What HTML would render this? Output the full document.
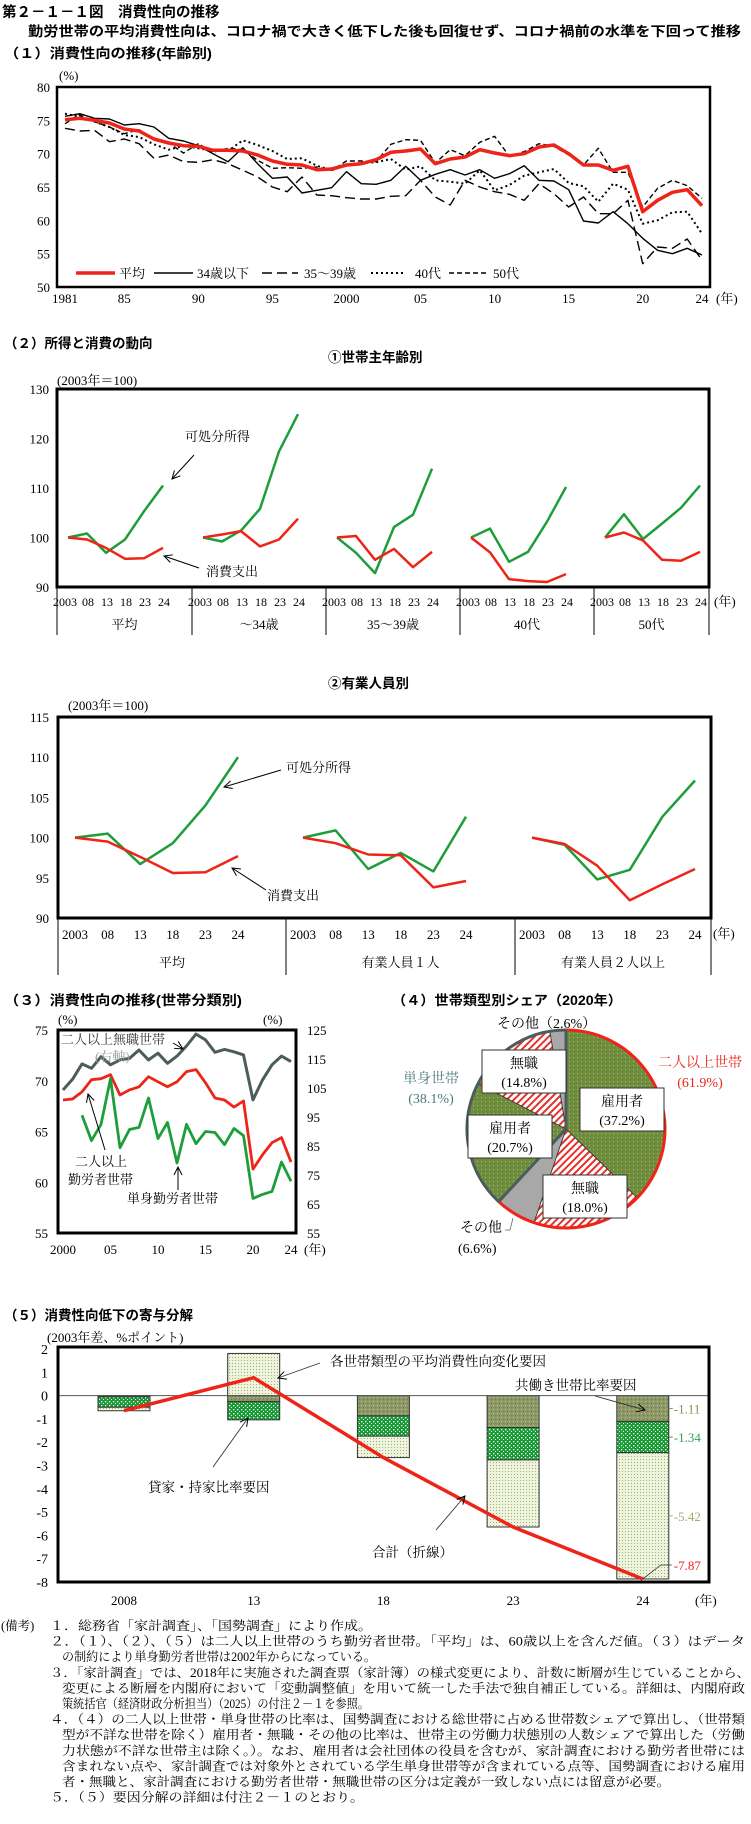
<!DOCTYPE html>
<html><head><meta charset="utf-8"><style>
body{margin:0;background:#fff}
svg{display:block}
.h{font-family:"Liberation Sans","Noto Sans CJK JP",sans-serif;font-weight:bold}
.s{font-family:"Liberation Serif","Noto Serif CJK SC","Noto Sans CJK JP",serif}
</style></head><body>
<svg id="fig" xmlns="http://www.w3.org/2000/svg" width="751" height="1824" viewBox="0 0 751 1824">
<defs>
<pattern id="hatchRed" width="5" height="5" patternUnits="userSpaceOnUse" patternTransform="rotate(45)"><rect width="5" height="5" fill="#fff"/><rect width="2" height="5" fill="#e8302a"/></pattern>
<pattern id="pieGreen" width="4" height="4" patternUnits="userSpaceOnUse"><rect width="4" height="4" fill="#6f8c3c"/><rect x="1" y="1" width="1" height="1" fill="#a8c080"/></pattern>
<pattern id="barOlive" width="4" height="4" patternUnits="userSpaceOnUse"><rect width="4" height="4" fill="#8c9866"/><rect x="1" y="1" width="1" height="1" fill="#b8c498"/><rect x="3" y="3" width="1" height="1" fill="#6c7848"/></pattern>
<pattern id="barGreen" width="4" height="4" patternUnits="userSpaceOnUse"><rect width="4" height="4" fill="#1c9a3a"/><rect x="1" y="1" width="1.3" height="1.3" fill="#e8ffe8"/><rect x="3" y="3" width="1.3" height="1.3" fill="#e8ffe8"/></pattern>
<pattern id="barLight" width="3" height="3" patternUnits="userSpaceOnUse"><rect width="3" height="3" fill="#eef3dc"/><rect x="1" y="1" width="1" height="1" fill="#9cae7c"/></pattern>
<marker id="arr" markerWidth="10" markerHeight="10" refX="9" refY="5" orient="auto" markerUnits="userSpaceOnUse"><path d="M1,1 L9,5 L1,9" fill="none" stroke="#000" stroke-width="1"/></marker>
</defs>
<rect width="751" height="1824" fill="#fff"/>

<!-- Header -->
<text class="h" x="2" y="17" font-size="14.5">第２－１－１図　消費性向の推移</text>
<text class="h" x="28" y="36" font-size="13.5" textLength="713" lengthAdjust="spacingAndGlyphs">勤労世帯の平均消費性向は、コロナ禍で大きく低下した後も回復せず、コロナ禍前の水準を下回って推移</text>
<text class="h" x="4" y="58" font-size="13.5" textLength="208" lengthAdjust="spacingAndGlyphs">（１）消費性向の推移(年齢別)</text>

<!-- Chart 1 static -->
<g id="c1">
<text class="s" x="59" y="80" font-size="13">(%)</text>
<rect x="57" y="87" width="653" height="200" fill="none" stroke="#000" stroke-width="2.5"/>
<text class="s" x="716" y="303" font-size="13">(年)</text>
</g>

<!-- Section 2 -->
<text class="h" x="4" y="348" font-size="13.5">（２）所得と消費の動向</text>
<text class="h" x="328" y="362" font-size="13.5">①世帯主年齢別</text>
<text class="s" x="57" y="385" font-size="13">(2003年＝100)</text>
<g id="c2a">
<rect x="57" y="389" width="652" height="198" fill="none" stroke="#000" stroke-width="3"/>
<text class="s" x="714" y="606" font-size="13">(年)</text>
<text class="s" x="185" y="441" font-size="13">可処分所得</text>
<line x1="194" y1="455" x2="172" y2="479" stroke="#000" stroke-width="1" marker-end="url(#arr)"/>
<text class="s" x="206" y="576" font-size="13">消費支出</text>
<line x1="199" y1="568" x2="164" y2="556" stroke="#000" stroke-width="1" marker-end="url(#arr)"/>
</g>

<text class="h" x="328" y="688" font-size="13.5">②有業人員別</text>
<text class="s" x="68" y="710" font-size="13">(2003年＝100)</text>
<g id="c2b">
<rect x="58" y="717" width="653" height="201" fill="none" stroke="#000" stroke-width="3"/>
<text class="s" x="713" y="938" font-size="13">(年)</text>
<text class="s" x="286" y="772" font-size="13">可処分所得</text>
<line x1="281" y1="770" x2="224" y2="787" stroke="#000" stroke-width="1" marker-end="url(#arr)"/>
<text class="s" x="267" y="900" font-size="13">消費支出</text>
<line x1="266" y1="890" x2="232" y2="868" stroke="#000" stroke-width="1" marker-end="url(#arr)"/>
</g>

<!-- Section 3 -->
<text class="h" x="4" y="1005" font-size="13.5" textLength="238" lengthAdjust="spacingAndGlyphs">（３）消費性向の推移(世帯分類別)</text>
<g id="c3">
<text class="s" x="58" y="1024" font-size="13">(%)</text>
<text class="s" x="263" y="1024" font-size="13">(%)</text>
<rect x="58" y="1030" width="238" height="203" fill="none" stroke="#000" stroke-width="3"/>
<text class="s" x="304" y="1254" font-size="13">(年)</text>
</g>

<!-- Section 4 -->
<text class="h" x="392" y="1005" font-size="13.5" textLength="230" lengthAdjust="spacingAndGlyphs">（４）世帯類型別シェア（2020年）</text>
<g id="c4"></g>

<!-- Section 5 -->
<text class="h" x="4" y="1320" font-size="13.5">（５）消費性向低下の寄与分解</text>
<text class="s" x="47" y="1342" font-size="13">(2003年差、%ポイント)</text>
<g id="c5">
<text class="s" x="695" y="1605" font-size="13">(年)</text>
</g>

<!-- Notes -->
<g class="s" font-size="12.5">
<text x="1" y="1630">(備考)</text>
<text x="50" y="1630" textLength="322" lengthAdjust="spacingAndGlyphs">１．総務省「家計調査」、「国勢調査」により作成。</text>
<text x="50" y="1645.6" textLength="695" lengthAdjust="spacingAndGlyphs">２．（１）、（２）、（５）は二人以上世帯のうち勤労者世帯。「平均」は、60歳以上を含んだ値。（３）はデータ</text>
<text x="62" y="1661.2" textLength="314" lengthAdjust="spacingAndGlyphs">の制約により単身勤労者世帯は2002年からになっている。</text>
<text x="50" y="1676.8" textLength="700" lengthAdjust="spacingAndGlyphs">３．「家計調査」では、2018年に実施された調査票（家計簿）の様式変更により、計数に断層が生じていることから、</text>
<text x="62" y="1692.4" textLength="683" lengthAdjust="spacingAndGlyphs">変更による断層を内閣府において「変動調整値」を用いて統一した手法で独自補正している。詳細は、内閣府政</text>
<text x="62" y="1708" textLength="307" lengthAdjust="spacingAndGlyphs">策統括官（経済財政分析担当）（2025）の付注２－１を参照。</text>
<text x="50" y="1723.6" textLength="695" lengthAdjust="spacingAndGlyphs">４．（４）の二人以上世帯・単身世帯の比率は、国勢調査における総世帯に占める世帯数シェアで算出し、（世帯類</text>
<text x="62" y="1739.2" textLength="683" lengthAdjust="spacingAndGlyphs">型が不詳な世帯を除く）雇用者・無職・その他の比率は、世帯主の労働力状態別の人数シェアで算出した（労働</text>
<text x="62" y="1754.8" textLength="683" lengthAdjust="spacingAndGlyphs">力状態が不詳な世帯主は除く。）。なお、雇用者は会社団体の役員を含むが、家計調査における勤労者世帯には</text>
<text x="62" y="1770.4" textLength="683" lengthAdjust="spacingAndGlyphs">含まれない点や、家計調査では対象外とされている学生単身世帯等が含まれている点等、国勢調査における雇用</text>
<text x="62" y="1786" textLength="608" lengthAdjust="spacingAndGlyphs">者・無職と、家計調査における勤労者世帯・無職世帯の区分は定義が一致しない点には留意が必要。</text>
<text x="50" y="1801.6" textLength="314" lengthAdjust="spacingAndGlyphs">５．（５）要因分解の詳細は付注２－１のとおり。</text>
</g>
</svg>

<script>
// ===== Chart 1 data =====
const years1 = [1981,1982,1983,1984,1985,1986,1987,1988,1989,1990,1991,1992,1993,1994,1995,1996,1997,1998,1999,2000,2001,2002,2003,2004,2005,2006,2007,2008,2009,2010,2011,2012,2013,2014,2015,2016,2017,2018,2019,2020,2021,2022,2023,2024];
const avgAll = [75.1,75.3,75.0,74.6,73.7,73.4,72.2,71.6,71.2,71.1,70.5,70.5,70.4,69.8,68.9,68.4,68.3,67.6,67.7,68.3,68.5,69.1,70.2,70.4,70.7,68.5,69.2,69.5,70.6,70.1,69.7,70.0,71.0,71.3,70.0,68.3,68.3,67.5,68.1,61.3,63.0,64.2,64.6,62.2];
const age34 = [75.6,76.0,75.3,75.2,74.3,74.5,74.0,72.3,71.9,71.2,70.0,68.8,70.9,68.5,66.3,66.5,64.1,64.5,64.9,67.3,65.5,65.4,66.0,68.1,66.0,66.9,67.6,66.8,67.6,66.3,67.0,68.2,66.0,65.9,64.6,59.9,59.6,61.3,59.5,57.3,55.5,55.0,55.8,54.8];
const age3539 = [73.8,73.4,73.5,71.8,72.2,71.5,69.3,69.8,68.8,68.7,69.1,68.5,67.5,66.5,65.0,64.3,66.5,63.8,63.7,63.4,63.2,63.2,63.6,63.7,66.0,63.5,62.3,66.0,65.0,64.3,63.9,63.0,65.5,64.0,62.0,63.5,61.0,61.0,63.0,53.5,56.0,55.8,57.2,54.0];
const age40s = [76.0,75.5,74.8,74.0,72.8,72.5,71.4,70.6,71.2,70.8,70.4,70.4,72.0,71.3,70.4,69.2,69.3,68.2,67.5,68.3,68.6,68.7,69.2,67.6,68.1,66.0,65.8,65.5,67.5,64.5,65.3,66.7,67.2,67.7,65.6,65.1,62.8,65.5,64.6,59.5,60.0,61.2,61.3,58.0];
const age50s = [74.5,75.8,74.8,74.0,73.0,73.6,72.2,71.6,70.1,71.5,70.2,70.8,70.6,69.0,67.8,67.9,67.8,68.0,67.5,68.9,68.9,68.8,71.4,72.1,72.0,68.6,70.6,69.7,71.7,72.6,69.6,70.3,71.5,71.1,69.8,68.3,70.8,67.2,67.2,62.0,64.8,66.0,65.2,63.3];
const c1Ticks = [80,75,70,65,60,55,50];
const c1XTickYears = [1981,1985,1990,1995,2000,2005,2010,2015,2020,2024];
const c1XTickLabels = ['1981','85','90','95','2000','05','10','15','20','24'];

// ===== Chart 2a data =====
const c2aGroups = ['平均','～34歳','35～39歳','40代','50代'];
const c2aYears = ['2003','08','13','18','23','24'];
const c2aIncome = [[100,100.8,96.9,99.6,105.3,110.5],[100,99.2,101.4,105.8,117.4,124.9],[100,96.9,92.8,102.1,104.6,113.9],[100,101.8,95.1,97.1,103.2,110.2],[100,104.7,99.7,102.8,106.0,110.5]];
const c2aCons = [[100,99.6,97.9,95.7,95.8,97.9],[100,100.6,101.3,98.2,99.6,103.8],[100,100.3,95.5,97.7,94.0,97.1],[100,97.0,91.6,91.2,91.0,92.6],[100,101.0,99.4,95.5,95.3,97.1]];
const c2aTicks = [130,120,110,100,90];

// ===== Chart 2b data =====
const c2bGroups = ['平均','有業人員１人','有業人員２人以上'];
const c2bYears = ['2003','08','13','18','23','24'];
const c2bIncome = [[100,100.5,96.7,99.3,104.0,110.0],[100,100.9,96.1,98.1,95.8,102.6],[100,99.1,94.8,96.0,102.6,107.1]];
const c2bCons = [[100,99.5,97.6,95.6,95.7,97.7],[100,99.3,97.9,97.8,93.8,94.6],[100,99.2,96.5,92.2,94.2,96.1]];
const c2bTicks = [115,110,105,100,95,90];

// ===== Chart 3 data =====
const years3 = [2000,2001,2002,2003,2004,2005,2006,2007,2008,2009,2010,2011,2012,2013,2014,2015,2016,2017,2018,2019,2020,2021,2022,2023,2024];
const jobless2 = [104.3,108.0,113.3,111.8,115.8,113.0,114.7,115.2,118.1,114.7,117.0,113.5,116.0,119.5,123.6,121.6,117.3,118.3,117.5,116.4,100.9,107.8,113.0,116.0,114.1];
const worker2 = [68.1,68.2,68.9,70.1,70.2,70.6,68.6,69.1,69.4,70.4,69.9,69.4,69.9,70.9,71.1,69.8,68.3,68.1,67.4,68.0,61.3,62.7,63.9,64.4,62.0];
const singleWorker = [null,null,66.6,64.1,65.7,70.2,63.4,65.2,65.4,68.3,64.3,65.9,61.9,65.7,63.8,65.0,64.9,63.7,65.3,64.6,58.4,58.8,59.1,62.0,60.1];
const c3LeftTicks = [75,70,65,60,55];
const c3RightTicks = [125,115,105,95,85,75,65,55];
const c3XTickYears = [2000,2005,2010,2015,2020,2024];
const c3XTickLabels = ['2000','05','10','15','20','24'];

// ===== Chart 4 data =====
const pieLabels = ['二人以上・雇用者','二人以上・無職','二人以上・その他','単身・雇用者','単身・無職','単身・その他'];
const pieValues = [37.2,18.0,6.6,20.7,14.8,2.6];
const pieGroupValues = [61.9,38.1];

// ===== Chart 5 data =====
const c5Cats = ['2008','13','18','23','24'];
const coupleFactor = [-0.05,-0.26,-0.87,-1.37,-1.11];
const housingFactor = [-0.45,-0.78,-0.87,-1.39,-1.34];
const typeFactor = [-0.15,1.81,-0.92,-2.88,-5.42];
const totalLine = [-0.65,0.77,-2.66,-5.64,-7.87];
const c5Ticks = [2,1,0,-1,-2,-3,-4,-5,-6,-7,-8];

const NS='http://www.w3.org/2000/svg';
function mk(tag, attrs, parent){const e=document.createElementNS(NS,tag);for(const k in attrs)e.setAttribute(k,attrs[k]);parent.appendChild(e);return e;}
function txt(parent, x, y, s, size, anchor, fill){const t=mk('text',{x:x,y:y,'font-size':size,'text-anchor':anchor||'start',fill:fill||'#000','class':'s'},parent);t.textContent=s;return t;}
function pts(xs, ys){let d='';for(let i=0;i<xs.length;i++){if(ys[i]===null)continue;d+=(d?' L':'M')+xs[i].toFixed(1)+','+ys[i].toFixed(1);}return d;}

// ---------- Chart 1 ----------
(function(){
  const g=document.getElementById('c1');
  const x=yr=>65+(yr-1981)*(637/43);
  const y=v=>87+(80-v)*200/30;
  c1Ticks.forEach(v=>{
    const t=txt(g,50,y(v)+5,String(v),13,'end');
    
    
  });
  c1XTickYears.forEach((yr,i)=>{
    const t=txt(g,x(yr),303,c1XTickLabels[i],13,'middle');
    
    
  });
  const series=[
    {d:age34,name:'line-34-and-under',stroke:'#000',w:1.4,dash:''},
    {d:age3539,name:'line-35-39',stroke:'#000',w:1.4,dash:'10,5'},
    {d:age40s,name:'line-40s',stroke:'#000',w:2,dash:'2,3'},
    {d:age50s,name:'line-50s',stroke:'#000',w:1.4,dash:'5,3'},
    {d:avgAll,name:'line-average',stroke:'#ee2418',w:3.5,dash:''}
  ];
  series.forEach(s=>{
    const p=mk('path',{d:pts(years1.map(x),s.d.map(y)),fill:'none',stroke:s.stroke,'stroke-width':s.w,'stroke-dasharray':s.dash,'stroke-linejoin':'round'},g);
    
    
  });
  const leg=[{x1:76,x2:115,lx:119,t:'平均',c:'#ee2418',w:3.5,dash:'',n:'average'},
             {x1:154,x2:193,lx:197,t:'34歳以下',c:'#000',w:1.4,dash:'',n:'34-and-under'},
             {x1:262,x2:298,lx:304,t:'35～39歳',c:'#000',w:1.6,dash:'10,5',n:'35-39'},
             {x1:371,x2:405,lx:415,t:'40代',c:'#000',w:2,dash:'2,3',n:'40s'},
             {x1:449,x2:488,lx:493,t:'50代',c:'#000',w:1.6,dash:'5,3',n:'50s'}];
  leg.forEach(l=>{
    const ln=mk('line',{x1:l.x1,y1:273,x2:l.x2,y2:273,stroke:l.c,'stroke-width':l.w,'stroke-dasharray':l.dash},g);
    
    
    const t=txt(g,l.lx,278,l.t,13,'start');
    
    
  });
})();

// ---------- Chart 2a ----------
(function(){
  const g=document.getElementById('c2a');
  const lefts=[57,192,326,460,594,709];
  const y=v=>389+(130-v)*198/40;
  c2aTicks.forEach(v=>{
    const t=txt(g,49,y(v)+5,String(v),13,'end');
    
    
  });
  lefts.forEach((lx,i)=>{
    const l=mk('line',{x1:lx,y1:587,x2:lx,y2:635,stroke:'#000','stroke-width':1},g);
    
    
  });
  c2aGroups.forEach((name,gi)=>{
    const x=i=>lefts[gi]+11+i*19;
    const xs=c2aYears.map((_,i)=>x(i));
    c2aYears.forEach((lab,i)=>{
      const t=txt(g,i===0?x(i)-3:x(i)+1,606,lab,12,'middle');
      
      
    });
    const gl=txt(g,(lefts[gi]+lefts[gi+1])/2,629,name,13,'middle');
    
    
    const pi=mk('path',{d:pts(xs,c2aIncome[gi].map(y)),fill:'none',stroke:'#1e9e3a','stroke-width':2.5,'stroke-linejoin':'round'},g);
    
    
    const pc=mk('path',{d:pts(xs,c2aCons[gi].map(y)),fill:'none',stroke:'#ee2418','stroke-width':2.5,'stroke-linejoin':'round'},g);
    
    
  });
})();

// ---------- Chart 2b ----------
(function(){
  const g=document.getElementById('c2b');
  const lefts=[58,286,515,711];
  const y=v=>717+(115-v)*201/25;
  c2bTicks.forEach(v=>{
    const t=txt(g,49,y(v)+5,String(v),13,'end');
    
    
  });
  lefts.forEach(lx=>{
    const l=mk('line',{x1:lx,y1:918,x2:lx,y2:975,stroke:'#000','stroke-width':1},g);
    
    
  });
  c2bGroups.forEach((name,gi)=>{
    const x=i=>lefts[gi]+17+i*32.6;
    const xs=c2bYears.map((_,i)=>x(i));
    c2bYears.forEach((lab,i)=>{
      const t=txt(g,x(i),939,lab,13,'middle');
      
      
    });
    const gl=txt(g,(lefts[gi]+lefts[gi+1])/2,967,name,13,'middle');
    
    
    const pi=mk('path',{d:pts(xs,c2bIncome[gi].map(y)),fill:'none',stroke:'#1e9e3a','stroke-width':2.5,'stroke-linejoin':'round'},g);
    
    
    const pc=mk('path',{d:pts(xs,c2bCons[gi].map(y)),fill:'none',stroke:'#ee2418','stroke-width':2.5,'stroke-linejoin':'round'},g);
    
    
  });
})();

// ---------- Chart 3 ----------
(function(){
  const g=document.getElementById('c3');
  const x=yr=>63+(yr-2000)*9.5;
  const yl=v=>1030+(75-v)*203/20;
  const yr=v=>1030+(125-v)*203/70;
  c3LeftTicks.forEach(v=>{
    const t=txt(g,48,yl(v)+5,String(v),13,'end');
    
    
  });
  c3RightTicks.forEach(v=>{
    const t=txt(g,307,yr(v)+5,String(v),13,'start');
    
    
  });
  c3XTickYears.forEach((yy,i)=>{
    const t=txt(g,x(yy),1254,c3XTickLabels[i],13,'middle');
    
    
  });
  const xs=years3.map(x);
  const p1=mk('path',{d:pts(xs,jobless2.map(yr)),fill:'none',stroke:'#4b5c5c','stroke-width':3,'stroke-linejoin':'round'},g);
  
  
  const p2=mk('path',{d:pts(xs,worker2.map(yl)),fill:'none',stroke:'#ee2418','stroke-width':2.8,'stroke-linejoin':'round'},g);
  
  
  const p3=mk('path',{d:pts(xs,singleWorker.map(v=>v===null?null:yl(v))),fill:'none',stroke:'#1e9e3a','stroke-width':2.8,'stroke-linejoin':'round'},g);
  
  
  const a1=txt(g,61,1044,'二人以上無職世帯',13,'start'); a1.setAttribute('fill','#333');
  
  
  const a2=txt(g,95,1061,'(右軸)',13,'start','#999');
  
  
  const ar1=mk('line',{x1:173,y1:1043,x2:183,y2:1049,stroke:'#000','stroke-width':1,'marker-end':'url(#arr)'},g);
  
  
  const a3=txt(g,75,1166,'二人以上',13,'start');
  
  
  const a4=txt(g,68,1184,'勤労者世帯',13,'start');
  
  
  const ar2=mk('line',{x1:105,y1:1150,x2:88,y2:1094,stroke:'#000','stroke-width':1,'marker-end':'url(#arr)'},g);
  
  
  const a5=txt(g,127,1203,'単身勤労者世帯',13,'start');
  
  
  const ar3=mk('line',{x1:178,y1:1190,x2:178,y2:1167,stroke:'#000','stroke-width':1,'marker-end':'url(#arr)'},g);
  
  
})();

// ---------- Chart 4 (pie) ----------
(function(){
  const g=document.getElementById('c4');
  const cx=566, cy=1129, r=99;
  const fills=['url(#pieGreen)','url(#hatchRed)','#a8a8a8','url(#pieGreen)','url(#hatchRed)','#a8a8a8'];
  const total=pieValues.reduce((a,b)=>a+b,0);
  const pt=(f,rr)=>{const a=-Math.PI/2+f*2*Math.PI;return [cx+rr*Math.cos(a),cy+rr*Math.sin(a)];};
  let acc=0;
  pieValues.forEach((v,i)=>{
    const f0=acc/total, f1=(acc+v)/total; acc+=v;
    const p0=pt(f0,r), p1=pt(f1,r);
    const large=(f1-f0)>0.5?1:0;
    const s=mk('path',{d:`M${cx},${cy} L${p0[0]},${p0[1]} A${r},${r} 0 ${large} 1 ${p1[0]},${p1[1]} Z`,fill:fills[i],stroke:'#333','stroke-width':0.8},g);
    
    
  });
  let gacc=0; const gcols=['#ee2418','#4b5c5c'];
  pieGroupValues.forEach((v,i)=>{
    const f0=gacc/100, f1=(gacc+v)/100; gacc+=v;
    const p0=pt(f0,r), p1=pt(f1,r);
    const large=(f1-f0)>0.5?1:0;
    const a=mk('path',{d:`M${p0[0]},${p0[1]} A${r},${r} 0 ${large} 1 ${p1[0]},${p1[1]}`,fill:'none',stroke:gcols[i],'stroke-width':3},g);
    
    
    const e=pt(f0,r);
    const rl=mk('line',{x1:cx,y1:cy,x2:e[0],y2:e[1],stroke:'#4b5c5c','stroke-width':3},g);
    
    
  });
  const boxes=[{x:482,y:1050,t1:'無職',t2:'(14.8%)',n:'single-jobless'},
               {x:580,y:1088,t1:'雇用者',t2:'(37.2%)',n:'multi-employee'},
               {x:468,y:1115,t1:'雇用者',t2:'(20.7%)',n:'single-employee'},
               {x:543,y:1175,t1:'無職',t2:'(18.0%)',n:'multi-jobless'}];
  boxes.forEach(b=>{
    const r2=mk('rect',{x:b.x,y:b.y,width:84,height:43,fill:'#fff',stroke:'#333','stroke-width':1},g);
    
    
    const t1=txt(g,b.x+42,b.y+18,b.t1,14,'middle');
    
    
    const t2=txt(g,b.x+42,b.y+37,b.t2,14,'middle');
    
    
  });
  const l1=txt(g,497,1028,'その他（2.6%）',14,'start');
  
  
  const l2=txt(g,700,1067,'二人以上世帯',14,'middle','#ee2418');
  
  
  const l3=txt(g,700,1087,'(61.9%)',14,'middle','#ee2418');
  
  
  const l4=txt(g,431,1083,'単身世帯',14,'middle','#4b7a7a');
  
  
  const l5=txt(g,431,1103,'(38.1%)',14,'middle','#4b7a7a');
  
  
  const l6=txt(g,460,1232,'その他',14,'start');
  
  
  const l7=txt(g,458,1253,'(6.6%)',14,'start');
  
  
  const ll=mk('path',{d:'M505,1230 L510,1230 L513,1218',fill:'none',stroke:'#666','stroke-width':0.8},g);
  
  
})();

// ---------- Chart 5 ----------
(function(){
  const g=document.getElementById('c5');
  const y0=1395.6, unit=23.3;
  const y=v=>y0-v*unit;
  const xc=i=>124+i*129.7;
  const bw=52;
  c5Ticks.forEach(v=>{
    const t=txt(g,48,y(v)+5,String(v),14,'end');
    
    
  });
  c5Cats.forEach((c,i)=>{
    const t=txt(g,xc(i),1605,c,13,'middle');
    
    
  });
  const comps=[{d:coupleFactor,f:'url(#barOlive)',n:'dual-income-factor'},{d:housingFactor,f:'url(#barGreen)',n:'housing-factor'},{d:typeFactor,f:'url(#barLight)',n:'type-factor'}];
  c5Cats.forEach((c,i)=>{
    let pos=0,neg=0;
    comps.forEach(cp=>{
      const v=cp.d[i];
      let a,b;
      if(v>=0){a=pos;b=pos+v;pos=b;}else{a=neg;b=neg+v;neg=b;}
      const top=Math.min(y(a),y(b)), h=Math.abs(y(a)-y(b));
      const r=mk('rect',{x:xc(i)-bw/2,y:top,width:bw,height:h,fill:cp.f,stroke:'#333','stroke-width':1},g);
      
      
    });
  });
  const zl=mk('line',{x1:58,y1:y0,x2:709,y2:y0,stroke:'#555','stroke-width':1},g);
  
  
  const fr=mk('rect',{x:58,y:1347,width:651,height:235,fill:'none',stroke:'#000','stroke-width':3},g);
  
  
  const tl=mk('path',{d:pts(c5Cats.map((_,i)=>xc(i)),totalLine.map(y)),fill:'none',stroke:'#ee2418','stroke-width':3.5},g);
  
  
  const li=c5Cats.length-1, lx=xc(li)+bw/2;
  const sideC=['#7a9a4a','#3aa050','#a0b070'];
  let accN=0;
  comps.forEach((cp,k)=>{
    const v=cp.d[li];
    const mid=y(accN+v/2); accN+=v;
    const tk=mk('line',{x1:lx,y1:mid,x2:lx+4,y2:mid,stroke:sideC[k],'stroke-width':1},g);
    
    
    const t=txt(g,lx+5,mid+5,v.toFixed(2),13,'start',sideC[k]);
    
    
  });
  const tv=totalLine[li];
  const tk2=mk('path',{d:`M${xc(li)},${y(tv)} L${lx-8},${y(tv)-14} L${lx+3},${y(tv)-14}`,fill:'none',stroke:'#333','stroke-width':0.8},g);
  
  
  const tt=txt(g,lx+5,y(tv)-9,tv.toFixed(2),13,'start','#ee2418');
  
  
  const an=[{x:330,y:1366,t:'各世帯類型の平均消費性向変化要因',n:'annot-type-factor',ax1:320,ay1:1363,ax2:278,ay2:1378},
            {x:515,y:1390,t:'共働き世帯比率要因',n:'annot-dual-income',ax1:595,ay1:1396,ax2:645,ay2:1410},
            {x:148,y:1492,t:'貸家・持家比率要因',n:'annot-housing',ax1:213,ay1:1467,ax2:248,ay2:1418},
            {x:372,y:1557,t:'合計（折線）',n:'annot-total',ax1:436,ay1:1530,ax2:465,ay2:1496}];
  an.forEach(a=>{
    const t=txt(g,a.x,a.y,a.t,13.5,'start');
    
    
    const l=mk('line',{x1:a.ax1,y1:a.ay1,x2:a.ax2,y2:a.ay2,stroke:'#333','stroke-width':0.9,'marker-end':'url(#arr)'},g);
    
    
  });
})();
</script>
</body></html>
